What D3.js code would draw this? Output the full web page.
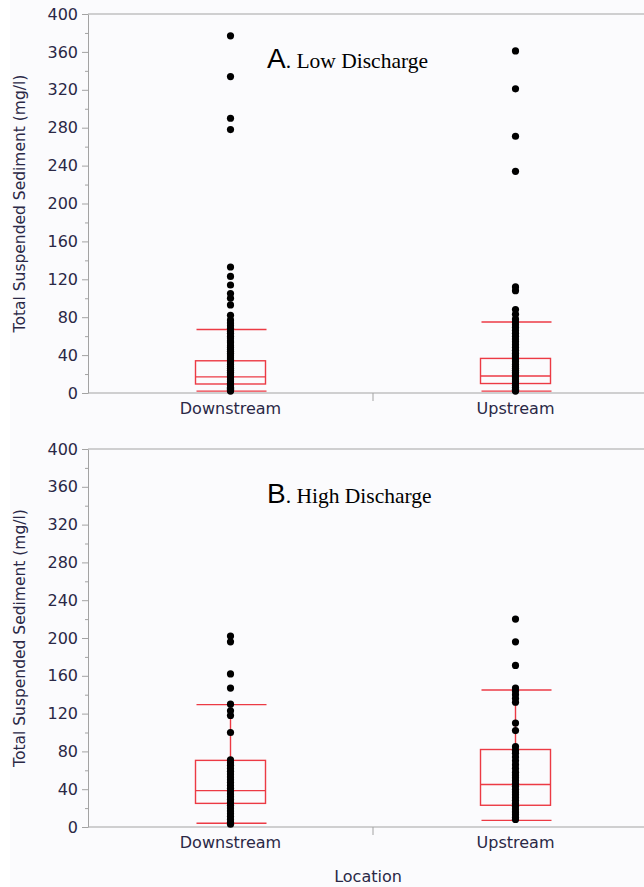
<!DOCTYPE html>
<meta charset="utf-8">
<style>
body { margin: 0; background: #fff; }
.chart { font-family: "DejaVu Sans", sans-serif; }
.axis path, .axis line { stroke: #a3a3a3; }
.axis text { fill: #2a2846; font-size: 16px; font-family: "DejaVu Sans", sans-serif; }
.box { fill: none; stroke: #ec3a44; stroke-width: 1.4; }
.dot { fill: #000; }
</style>
<svg class="chart" width="644" height="887"></svg>
<script src="https://d3js.org/d3.v7.min.js"></script>
<script>

var locations = ["Downstream", "Upstream"];
var yTicks = [0, 40, 80, 120, 160, 200, 240, 280, 320, 360, 400];

// low discharge observations (mg/l)
var lowDownstream = [377, 334, 290, 278, 133, 123, 114, 105, 100, 93, 82, 77, 74, 71, 68, 65, 63, 60, 58, 55,
    53, 50, 48, 46, 44, 42, 40, 38, 36, 34, 32, 30, 28, 26, 24, 22, 20, 18, 16, 14, 12, 10, 8, 6, 5, 4, 3, 2];
var lowUpstream = [361, 321, 271, 234, 112, 108, 88, 83, 78, 75, 72, 69, 66, 63, 60, 57, 54, 51, 48, 45,
    42, 40, 38, 35, 33, 30, 28, 26, 24, 22, 20, 18, 16, 14, 12, 10, 8, 6, 4, 3, 2];

// high discharge observations (mg/l)
var highDownstream = [202, 196, 162, 147, 130, 123, 118, 100, 71, 68, 65, 62, 59, 56, 53, 50, 47, 44, 41, 38,
    35, 32, 29, 26, 23, 20, 17, 14, 11, 8, 5, 3];
var highUpstream = [220, 196, 171, 147, 144, 140, 136, 132, 110, 102, 85, 81, 78, 74, 70, 66, 62, 58, 55, 52,
    49, 46, 43, 40, 37, 34, 31, 28, 25, 22, 19, 16, 13, 10, 8];

// box summaries: [lower whisker, q1, median, q3, upper whisker]
var lowBoxDownstream = [2, 9.5, 17, 34, 67];
var lowBoxUpstream = [2, 10, 18, 36.5, 75];
var highBoxDownstream = [4, 25, 38.5, 70.5, 129.5];
var highBoxUpstream = [7, 23, 45, 82, 145];

var svg = d3.select("svg");

svg.append("rect")
    .attr("x", 10).attr("y", 0)
    .attr("width", 634).attr("height", 887)
    .attr("fill", "#fbfbfd");

var left = 88, right = 658, boxW = 70;

var x = d3.scaleBand().domain(locations).range([left, right]).padding(0);

function panel(top, bottom, points, boxes, letter, label, showLocation) {
    var y = d3.scaleLinear().domain([0, 400]).range([bottom, top]);
    var g = svg.append("g");

    // top border
    g.append("line")
        .attr("x1", left).attr("x2", 644)
        .attr("y1", top).attr("y2", top)
        .attr("stroke", "#a3a3a3");

    // minor ticks
    g.append("g")
        .attr("class", "axis")
        .attr("transform", "translate(" + left + ",0)")
        .call(d3.axisLeft(y).tickValues(d3.range(20, 400, 40)).tickSize(3).tickFormat(""))
        .select(".domain").remove();

    g.append("g")
        .attr("class", "axis")
        .attr("transform", "translate(" + left + ",0)")
        .call(d3.axisLeft(y).tickValues(yTicks).tickSize(6).tickSizeOuter(0).tickPadding(4));

    var xa = g.append("g")
        .attr("class", "axis")
        .attr("transform", "translate(0," + bottom + ")")
        .call(d3.axisBottom(x).tickSize(0).tickSizeOuter(0).tickPadding(10));
    xa.select(".domain").attr("d", "M" + left + ",0H644");

    // category separator tick
    g.append("line")
        .attr("x1", x("Upstream")).attr("x2", x("Upstream"))
        .attr("y1", bottom).attr("y2", bottom + 8)
        .attr("stroke", "#a3a3a3");

    svg.append("text")
        .attr("transform", "translate(25," + (top + bottom) / 2 + ") rotate(-90)")
        .attr("text-anchor", "middle")
        .attr("fill", "#2a2846")
        .style("font-size", "15.5px")
        .text("Total Suspended Sediment (mg/l)");

    var t = svg.append("text")
        .attr("x", 267)
        .attr("y", top + 54);
    t.append("tspan")
        .style("font-family", "'Liberation Sans', Arial, sans-serif")
        .style("font-size", "28px")
        .text(letter);
    t.append("tspan")
        .style("font-family", "'Liberation Serif', 'Times New Roman', serif")
        .style("font-size", "21.5px")
        .text(". " + label);

    locations.forEach(function(loc, i) {
        var cx = x(loc) + x.bandwidth() / 2;
        var s = boxes[i];
        var b = g.append("g");

        g.selectAll(".dot-" + i)
            .data(points[i])
            .enter()
            .append("circle")
            .attr("class", "dot")
            .attr("cx", cx)
            .attr("cy", function(d) { return y(d); })
            .attr("r", 3.6);

        b.append("rect")
            .attr("class", "box")
            .attr("x", cx - boxW / 2)
            .attr("y", y(s[3]))
            .attr("width", boxW)
            .attr("height", y(s[1]) - y(s[3]));
        b.append("line").attr("class", "box")
            .attr("x1", cx - boxW / 2).attr("x2", cx + boxW / 2)
            .attr("y1", y(s[2])).attr("y2", y(s[2]));
        [0, 4].forEach(function(k) {
            b.append("line").attr("class", "box")
                .attr("x1", cx - boxW / 2 + 1).attr("x2", cx + boxW / 2 + 1)
                .attr("y1", y(s[k])).attr("y2", y(s[k]));
        });
        b.append("line").attr("class", "box")
            .attr("x1", cx).attr("x2", cx)
            .attr("y1", y(s[3])).attr("y2", y(s[4]));
        b.append("line").attr("class", "box")
            .attr("x1", cx).attr("x2", cx)
            .attr("y1", y(s[1])).attr("y2", y(s[0]));
    });

    if (showLocation) {
        svg.append("text")
            .attr("x", 368)
            .attr("y", bottom + 55)
            .attr("text-anchor", "middle")
            .attr("fill", "#2a2846")
            .style("font-size", "16px")
            .text("Location");
    }
}

panel(14, 393, [lowDownstream, lowUpstream], [lowBoxDownstream, lowBoxUpstream], "A", "Low Discharge", false);
panel(449, 827, [highDownstream, highUpstream], [highBoxDownstream, highBoxUpstream], "B", "High Discharge", true);

</script>
